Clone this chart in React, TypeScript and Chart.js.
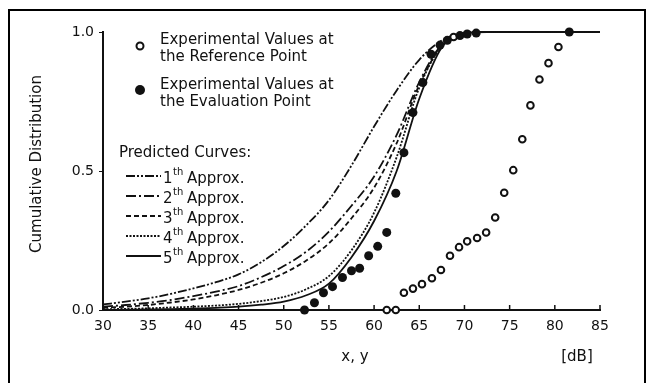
import React, { useEffect, useRef } from "react";
import { Chart, registerables } from "chart.js";
Chart.register(...registerables);

// ---- data ----
const curveX = [30, 32.5, 35, 37.5, 40, 42.5, 45, 47.5, 50, 52.5, 55, 57.5, 60, 62.5, 65, 67.5, 70, 72.5, 85];
const approx1 = [0.02, 0.03, 0.042, 0.058, 0.078, 0.1, 0.128, 0.172, 0.23, 0.305, 0.395, 0.52, 0.66, 0.79, 0.9, 0.97, 0.997, 1.0, 1.0];
const approx2 = [0.012, 0.018, 0.026, 0.036, 0.05, 0.066, 0.086, 0.118, 0.158, 0.21, 0.282, 0.375, 0.48, 0.63, 0.82, 0.955, 0.995, 1.0, 1.0];
const approx3 = [0.008, 0.012, 0.018, 0.027, 0.038, 0.053, 0.072, 0.098, 0.132, 0.178, 0.24, 0.33, 0.44, 0.6, 0.81, 0.95, 0.995, 1.0, 1.0];
const approx4 = [0.003, 0.004, 0.006, 0.009, 0.012, 0.016, 0.022, 0.032, 0.047, 0.075, 0.122, 0.215, 0.35, 0.55, 0.8, 0.95, 0.995, 1.0, 1.0];
const approx5 = [0.0, 0.001, 0.002, 0.003, 0.005, 0.008, 0.012, 0.019, 0.03, 0.053, 0.095, 0.19, 0.32, 0.5, 0.76, 0.945, 0.995, 1.0, 1.0];

const refX = [61.4, 62.4, 63.3, 64.3, 65.3, 66.4, 67.4, 68.4, 69.4, 70.3, 71.4, 72.4, 73.4, 74.4, 75.4, 76.4, 77.3, 78.3, 79.3, 80.4, 68.8];
const refY = [0, 0, 0.062, 0.077, 0.093, 0.114, 0.144, 0.195, 0.226, 0.247, 0.259, 0.279, 0.333, 0.422, 0.503, 0.614, 0.736, 0.829, 0.888, 0.946, 0.982];

const evalX = [52.3, 53.4, 54.4, 55.4, 56.5, 57.5, 58.4, 59.4, 60.4, 61.4, 62.4, 63.3, 64.3, 65.4, 66.3, 67.3, 68.1, 69.5, 70.3, 71.3, 81.6];
const evalY = [0, 0.026, 0.062, 0.084, 0.117, 0.141, 0.15, 0.195, 0.229, 0.279, 0.42, 0.566, 0.71, 0.818, 0.92, 0.953, 0.97, 0.987, 0.993, 0.996, 1.0];

const xTickValues = [30, 35, 40, 45, 50, 55, 60, 65, 70, 75, 80, 85];
const yTickValues = [0, 0.5, 1.0];

const legendRef = ["Experimental Values at", "the Reference Point"];
const legendEval = ["Experimental Values at", "the Evaluation Point"];
const legendTitle = "Predicted Curves:";
const approxNums = ["1", "2", "3", "4", "5"];
const approxSup = "th";
const approxWord = "Approx.";
const yTitle = "Cumulative Distribution";
const xTitle = "x, y";
const unitLabel = "[dB]";

const curveSeries = [approx1, approx2, approx3, approx4, approx5];
const dashes: number[][] = [
  [9, 2, 2, 2, 2, 2],
  [10, 3, 2, 3],
  [5, 3],
  [2, 1.5],
  [],
];

const FONT = "'DejaVu Sans', sans-serif";
const INK = "#111";

const pts = (xs: number[], ys: number[]) => xs.map((x, i) => ({ x, y: ys[i] }));

const overlay = {
  id: "overlay",
  beforeDraw(chart: any) {
    const ctx = chart.ctx;
    ctx.save();
    ctx.fillStyle = "#fff";
    ctx.fillRect(0, 0, chart.width, chart.height);
    ctx.restore();
  },
  afterDraw(chart: any) {
    const ctx = chart.ctx;
    const xs = chart.scales.x;
    const area = chart.chartArea;
    ctx.save();
    // frame
    ctx.strokeStyle = "#000";
    ctx.lineWidth = 2;
    ctx.strokeRect(9, 10, 636, 420);
    // inward x ticks
    ctx.lineWidth = 1.5;
    ctx.strokeStyle = INK;
    xTickValues.forEach((v) => {
      const px = xs.getPixelForValue(v);
      ctx.beginPath();
      ctx.moveTo(px, area.bottom);
      ctx.lineTo(px, area.bottom - 5);
      ctx.stroke();
    });
    // legend - markers
    ctx.beginPath();
    ctx.arc(140, 46, 3.5, 0, Math.PI * 2);
    ctx.fillStyle = "#fff";
    ctx.fill();
    ctx.lineWidth = 2;
    ctx.strokeStyle = INK;
    ctx.stroke();
    ctx.beginPath();
    ctx.arc(140, 90, 5, 0, Math.PI * 2);
    ctx.fillStyle = INK;
    ctx.fill();
    // legend text
    ctx.font = `15px ${FONT}`;
    ctx.textBaseline = "alphabetic";
    ctx.textAlign = "left";
    ctx.fillText(legendRef[0], 160, 44);
    ctx.fillText(legendRef[1], 160, 61);
    ctx.fillText(legendEval[0], 160, 89);
    ctx.fillText(legendEval[1], 160, 106);
    ctx.fillText(legendTitle, 119, 157);
    approxNums.forEach((n, i) => {
      const base = 183 + i * 20;
      ctx.save();
      ctx.setLineDash(dashes[i]);
      ctx.lineWidth = 2;
      ctx.strokeStyle = INK;
      ctx.beginPath();
      ctx.moveTo(126, base - 7);
      ctx.lineTo(161, base - 7);
      ctx.stroke();
      ctx.restore();
      ctx.font = `15px ${FONT}`;
      ctx.fillText(n, 163, base);
      ctx.font = `10px ${FONT}`;
      ctx.fillText(approxSup, 173, base - 8);
      ctx.font = `15px ${FONT}`;
      ctx.fillText(approxWord, 187, base);
    });
    // axis titles
    ctx.font = `15px ${FONT}`;
    ctx.textAlign = "center";
    ctx.textBaseline = "middle";
    ctx.fillText(xTitle, 355, 357);
    ctx.fillText(unitLabel, 577, 357);
    ctx.translate(37, 164);
    ctx.rotate(-Math.PI / 2);
    ctx.fillText(yTitle, 0, 0);
    ctx.restore();
  },
};

export default function App() {
  const ref = useRef<HTMLCanvasElement>(null);
  useEffect(() => {
    if (!ref.current) return;
    const lineSets = curveSeries.map((ys, i) => ({
      type: "line" as const,
      label: `${approxNums[i]}${approxSup} ${approxWord}`,
      data: pts(curveX, ys),
      borderColor: INK,
      borderWidth: 1.8,
      borderDash: dashes[i],
      pointRadius: 0,
      fill: false,
      cubicInterpolationMode: "monotone" as const,
      order: 10 + i,
    }));
    const chart = new Chart(ref.current, {
      type: "scatter",
      data: {
        datasets: [
          {
            type: "scatter",
            label: "Reference Point",
            data: pts(refX, refY),
            pointRadius: 3.3,
            pointBorderWidth: 2,
            pointBackgroundColor: "#fff",
            pointBorderColor: INK,
            order: 1,
          },
          {
            type: "scatter",
            label: "Evaluation Point",
            data: pts(evalX, evalY),
            pointRadius: 4.5,
            pointBorderWidth: 0,
            pointBackgroundColor: INK,
            pointBorderColor: INK,
            order: 0,
          },
          ...lineSets,
        ] as any,
      },
      options: {
        responsive: false,
        animation: false,
        clip: false as any,
        layout: { padding: { left: 0, top: 32, right: 54, bottom: 0 } },
        plugins: { legend: { display: false }, tooltip: { enabled: false } },
        scales: {
          x: {
            type: "linear",
            min: 30,
            max: 85,
            afterFit: (s: any) => {
              s.height = 73;
            },
            afterBuildTicks: (s: any) => {
              s.ticks = xTickValues.map((v) => ({ value: v }));
            },
            grid: { display: true, drawOnChartArea: false, drawTicks: false },
            border: { display: true, color: INK, width: 2 },
            ticks: {
              autoSkip: false,
              maxRotation: 0,
              padding: 8,
              color: INK,
              font: { family: FONT, size: 14 },
            },
          },
          y: {
            type: "linear",
            min: 0,
            max: 1,
            afterFit: (s: any) => {
              s.width = 103;
            },
            afterBuildTicks: (s: any) => {
              s.ticks = yTickValues.map((v) => ({ value: v }));
            },
            grid: { display: true, drawOnChartArea: false, drawTicks: true, tickLength: 4, color: INK },
            border: { display: true, color: INK, width: 2 },
            ticks: {
              padding: 5,
              color: INK,
              font: { family: FONT, size: 14 },
              callback: (v: any) => Number(v).toFixed(1),
            },
          },
        },
      },
      plugins: [overlay],
    } as any);
    return () => chart.destroy();
  }, []);
  return (
    <div style={{ position: "absolute", left: 0, top: 0, width: 654, height: 383 }}>
      <canvas ref={ref} width={654} height={383} style={{ width: 654, height: 383, display: "block" }} />
    </div>
  );
}
